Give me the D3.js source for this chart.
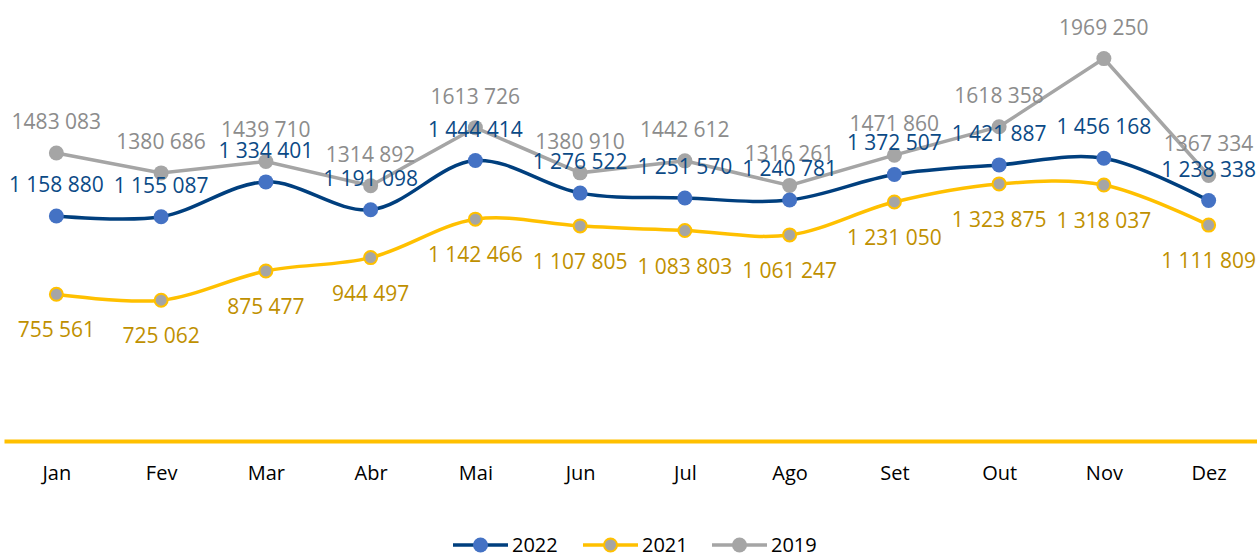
<!DOCTYPE html>
<html>
<head>
<meta charset="utf-8">
<script src="https://cdn.jsdelivr.net/npm/d3@7"></script>
<style>
  body { margin: 0; background: #fff; }
  svg { display: block; font-family: "Open Sans", sans-serif; }
</style>
</head>
<body>
<svg id="chart" width="1257" height="554"></svg>
<script>
// chart data
var months = ["Jan", "Fev", "Mar", "Abr", "Mai", "Jun", "Jul", "Ago", "Set", "Out", "Nov", "Dez"];
var values2022 = [1158880, 1155087, 1334401, 1191098, 1444414, 1276522, 1251570, 1240781, 1372507, 1421887, 1456168, 1238338];
var values2021 = [755561, 725062, 875477, 944497, 1142466, 1107805, 1083803, 1061247, 1231050, 1323875, 1318037, 1111809];
var values2019 = [1483083, 1380686, 1439710, 1314892, 1613726, 1380910, 1442612, 1316261, 1471860, 1618358, 1969250, 1367334];
var seriesNames = ["2022", "2021", "2019"];

var svg = d3.select("#chart");

var x = d3.scalePoint().domain(months).range([4, 1261]).padding(0.5);
var y = d3.scaleLinear().domain([0, 2200000]).range([441, 13.8]);

// "1 158 880" style
var fmtSpaced = function(v){ return d3.format(",")(v).replace(/,/g, " "); };
// "1483 083" style used by 2019 labels
var fmtShort = function(v){ var s = String(v); return s.slice(0, s.length - 3) + " " + s.slice(-3); };

var series = [
  {name: seriesNames[0], values: values2022, line: "#003F7E", width: 3.5, curve: d3.curveCatmullRom.alpha(0.5),
   fill: "#4472C4", stroke: "#4472C4", label: "#0B4A86", fmt: fmtSpaced, dy: -24},
  {name: seriesNames[1], values: values2021, line: "#FFC000", width: 3.5, curve: d3.curveCatmullRom.alpha(0.5),
   fill: "#A5A5A5", stroke: "#FFC000", label: "#BF9000", fmt: fmtSpaced, dy: 43},
  {name: seriesNames[2], values: values2019, line: "#A5A5A5", width: 3.5, curve: d3.curveLinear,
   fill: "#A5A5A5", stroke: "#A5A5A5", label: "#8C8C8C", fmt: fmtShort, dy: -24}
];

// x axis (yellow baseline + month names)
var xAxis = svg.append("g")
  .attr("transform", "translate(0,441)")
  .call(d3.axisBottom(x).tickSize(0).tickSizeOuter(0).tickPadding(25));
xAxis.select(".domain").attr("stroke", "#FFC000").attr("stroke-width", 4);
xAxis.selectAll("text").attr("font-size", 20).attr("fill", "#000").attr("font-family", "Open Sans, sans-serif");

// draw back to front: 2019, 2021, 2022
var order = [series[2], series[1], series[0]];
order.forEach(function(s){
  var line = d3.line()
    .x(function(d, i){ return x(months[i]); })
    .y(function(d){ return y(d); })
    .curve(s.curve);
  svg.append("path")
    .datum(s.values)
    .attr("d", line)
    .attr("fill", "none")
    .attr("stroke", s.line)
    .attr("stroke-width", s.width);
});

order.forEach(function(s){
  svg.append("g").selectAll("circle")
    .data(s.values)
    .enter().append("circle")
    .attr("cx", function(d, i){ return x(months[i]); })
    .attr("cy", function(d){ return y(d); })
    .attr("r", s.name == "2021" ? 6.5 : 7.5)
    .attr("fill", s.fill)
    .attr("stroke", s.stroke)
    .attr("stroke-width", s.name == "2021" ? 2 : 0);
});

order.forEach(function(s){
  svg.append("g").selectAll("text")
    .data(s.values)
    .enter().append("text")
    .attr("x", function(d, i){ return x(months[i]); })
    .attr("y", function(d){ return y(d) + s.dy; })
    .attr("text-anchor", "middle")
    .attr("font-size", 21)
    .attr("fill", s.label)
    .text(function(d){ return s.fmt(d); });
});

// legend
var legendX = [453, 583, 712];
series.forEach(function(s, i){
  var g = svg.append("g").attr("transform", "translate(" + legendX[i] + ",545)");
  g.append("line").attr("x1", 0).attr("x2", 55).attr("y1", 0).attr("y2", 0)
    .attr("stroke", s.line).attr("stroke-width", 3.5);
  g.append("circle").attr("cx", 27.5).attr("cy", 0)
    .attr("r", s.name == "2021" ? 6.5 : 7.5)
    .attr("fill", s.fill).attr("stroke", s.stroke)
    .attr("stroke-width", s.name == "2021" ? 2 : 0);
  g.append("text").attr("x", 59).attr("y", 7).attr("font-size", 20).attr("fill", "#000").text(s.name);
});
</script>
</body>
</html>
